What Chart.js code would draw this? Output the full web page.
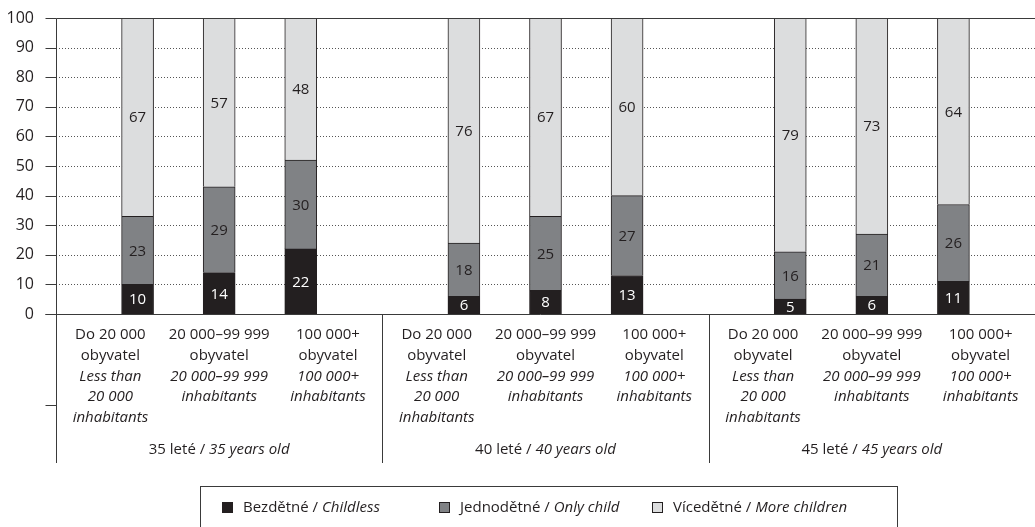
<!DOCTYPE html>
<html>
<head>
<meta charset="utf-8">
<script src="https://cdn.jsdelivr.net/npm/chart.js@4"></script>
<style>
  body { margin: 0; background: #fff; }
  #wrap { width: 1035px; height: 527px; }
</style>
</head>
<body>
<div id="wrap"><canvas id="chart" width="1035" height="527"></canvas></div>
<script>
// age groups (Czech / English)
const ageCz = ['35 leté', '40 leté', '45 leté'];
const ageEn = ['35 years old', '40 years old', '45 years old'];

// settlement size labels, Czech lines then English (italic) lines
const sizeCz = [['Do 20 000', 'obyvatel'], ['20 000–99 999', 'obyvatel'], ['100 000+', 'obyvatel']];
const sizeEn = [['Less than', '20 000', 'inhabitants'], ['20 000–99 999', 'inhabitants'], ['100 000+', 'inhabitants']];

// values, 3 sizes per age group
const childless    = [10, 14, 22, 6, 8, 13, 5, 6, 11];
const onlyChild    = [23, 29, 30, 18, 25, 27, 16, 21, 26];
const moreChildren = [67, 57, 48, 76, 67, 60, 79, 73, 64];

const seriesCz = ['Bezdětné', 'Jednodětné', 'Vícedětné'];
const seriesEn = ['Childless', 'Only child', 'More children'];
const colors = ['#231f20', '#808285', '#dcddde'];

const yTicks = [0, 10, 20, 30, 40, 50, 60, 70, 80, 90, 100];

const FONT = '"Open Sans", sans-serif';
const ink = '#231f20';

// every age group gets 4 slots on the x axis, the first one empty
function slots(arr) {
  const out = [];
  for (let k = 0; k <= 12; k++) {
    const g = Math.floor(k / 4), p = k % 4;
    out.push(p === 0 || g > 2 ? null : arr[g * 3 + p - 1]);
  }
  return out;
}
const slotLabels = Array.from({length: 13}, (_, i) => String(i));

function mixed(ctx, parts, x, y, align) {
  const widths = parts.map(p => { ctx.font = p[1]; return ctx.measureText(p[0]).width; });
  const total = widths.reduce((s, w) => s + w, 0);
  let cx = align === 'center' ? x - total / 2 : x;
  ctx.textAlign = 'left';
  parts.forEach((p, i) => {
    ctx.font = p[1];
    ctx.fillText(p[0], cx, y);
    cx += widths[i];
  });
}

const decor = {
  id: 'decor',
  beforeDatasetsDraw(chart) {
    const {ctx, chartArea: a, scales: {y}} = chart;
    ctx.save();
    ctx.strokeStyle = '#555';
    ctx.lineWidth = 1;
    ctx.setLineDash([1, 2]);
    yTicks.forEach(v => {
      if (v === 0 || v === 100) return;
      const py = Math.round(y.getPixelForValue(v)) + 0.5;
      ctx.beginPath();
      ctx.moveTo(a.left + 3, py);
      ctx.lineTo(a.right, py);
      ctx.stroke();
    });
    ctx.restore();
  },
  afterDatasetsDraw(chart) {
    const {ctx, chartArea: a, scales: {x, y}} = chart;
    ctx.save();

    // values inside the segments
    ctx.textAlign = 'center';
    ctx.textBaseline = 'middle';
    ctx.font = '15px ' + FONT;
    chart.data.datasets.forEach((ds, di) => {
      const meta = chart.getDatasetMeta(di);
      ctx.fillStyle = di === 0 ? '#fff' : ink;
      meta.data.forEach((el, i) => {
        const v = ds.data[i];
        if (v == null) return;
        const top = Math.max(el.y, a.top);
        ctx.fillText(String(v), el.x, (top + el.base) / 2 + 1);
      });
    });

    // axis lines
    ctx.strokeStyle = '#3a3a3a';
    ctx.lineWidth = 1;
    const y0 = Math.round(y.getPixelForValue(0)) + 0.5;
    const yTop = Math.round(y.getPixelForValue(100)) + 0.5;
    const xl = Math.round(a.left) + 0.5;
    const bottomLine = 463;
    ctx.beginPath();
    ctx.moveTo(xl, yTop); ctx.lineTo(a.right, yTop);
    ctx.moveTo(xl - 11, y0); ctx.lineTo(a.right, y0);
    ctx.moveTo(xl, yTop); ctx.lineTo(xl, bottomLine);
    yTicks.forEach(v => {
      const py = Math.round(y.getPixelForValue(v)) + 0.5;
      ctx.moveTo(xl - 11, py); ctx.lineTo(xl, py);
    });
    ctx.moveTo(xl - 11, 405.5); ctx.lineTo(xl, 405.5);
    [4, 8].forEach(k => {
      const px = Math.round(x.getPixelForValue(k)) + 0.5;
      ctx.moveTo(px, y0); ctx.lineTo(px, bottomLine);
    });
    ctx.stroke();

    // category and group labels
    ctx.fillStyle = ink;
    ctx.textBaseline = 'middle';
    const lineH = 20.7;
    for (let g = 0; g < 3; g++) {
      const gl = x.getPixelForValue(4 * g);
      const gr = x.getPixelForValue(4 * g + 4);
      const w = (gr - gl) / 3;
      for (let j = 0; j < 3; j++) {
        const cx = gl + w * (j + 0.5);
        let ly = 335;
        ctx.textAlign = 'center';
        ctx.font = '15px ' + FONT;
        sizeCz[j].forEach(t => { ctx.fillText(t, cx, ly); ly += lineH; });
        ctx.font = 'italic 15px ' + FONT;
        sizeEn[j].forEach(t => { ctx.fillText(t, cx, ly); ly += lineH; });
      }
      mixed(ctx, [[ageCz[g] + ' / ', '15px ' + FONT], [ageEn[g], 'italic 15px ' + FONT]],
        (gl + gr) / 2, 450, 'center');
    }

    // legend
    ctx.strokeStyle = '#3a3a3a';
    ctx.strokeRect(200.5, 486.5, 697, 60);
    const boxX = [222, 439, 652];
    const txtX = [243, 460, 673];
    for (let s = 0; s < 3; s++) {
      ctx.fillStyle = colors[s];
      ctx.fillRect(boxX[s], 502, 11, 11);
      ctx.strokeStyle = ink;
      ctx.strokeRect(boxX[s] + 0.5, 502.5, 10, 10);
      ctx.fillStyle = ink;
      mixed(ctx, [[seriesCz[s] + ' / ', '15px ' + FONT], [seriesEn[s], 'italic 15px ' + FONT]],
        txtX[s], 508, 'left');
    }
    ctx.restore();
  }
};

function build() {
  const datasets = [childless, onlyChild, moreChildren].map((arr, i) => ({
    label: seriesCz[i] + ' / ' + seriesEn[i],
    data: slots(arr),
    backgroundColor: colors[i],
    borderColor: ink,
    borderWidth: 1,
    barThickness: 32,
    clip: 0
  }));

  new Chart(document.getElementById('chart'), {
    type: 'bar',
    data: { labels: slotLabels, datasets: datasets },
    options: {
      responsive: false,
      animation: false,
      devicePixelRatio: 1,
      layout: { padding: { top: 18, bottom: 213, left: 0, right: 0 } },
      plugins: { legend: { display: false }, tooltip: { enabled: false } },
      scales: {
        x: {
          display: false,
          stacked: true,
          offset: false
        },
        y: {
          stacked: true,
          min: 0,
          max: 100,
          ticks: {
            stepSize: 10,
            padding: 22,
            color: ink,
            font: { family: FONT, size: 16 }
          },
          grid: { display: false, drawTicks: false },
          border: { display: false },
          afterFit(scale) {
            scale.width = 56;
            scale.paddingTop = 0;
            scale.paddingBottom = 0;
          }
        }
      }
    },
    plugins: [decor]
  });
}

Promise.all([
  document.fonts.load('15px "Open Sans"'),
  document.fonts.load('italic 15px "Open Sans"')
]).then(build, build);
</script>
</body>
</html>
